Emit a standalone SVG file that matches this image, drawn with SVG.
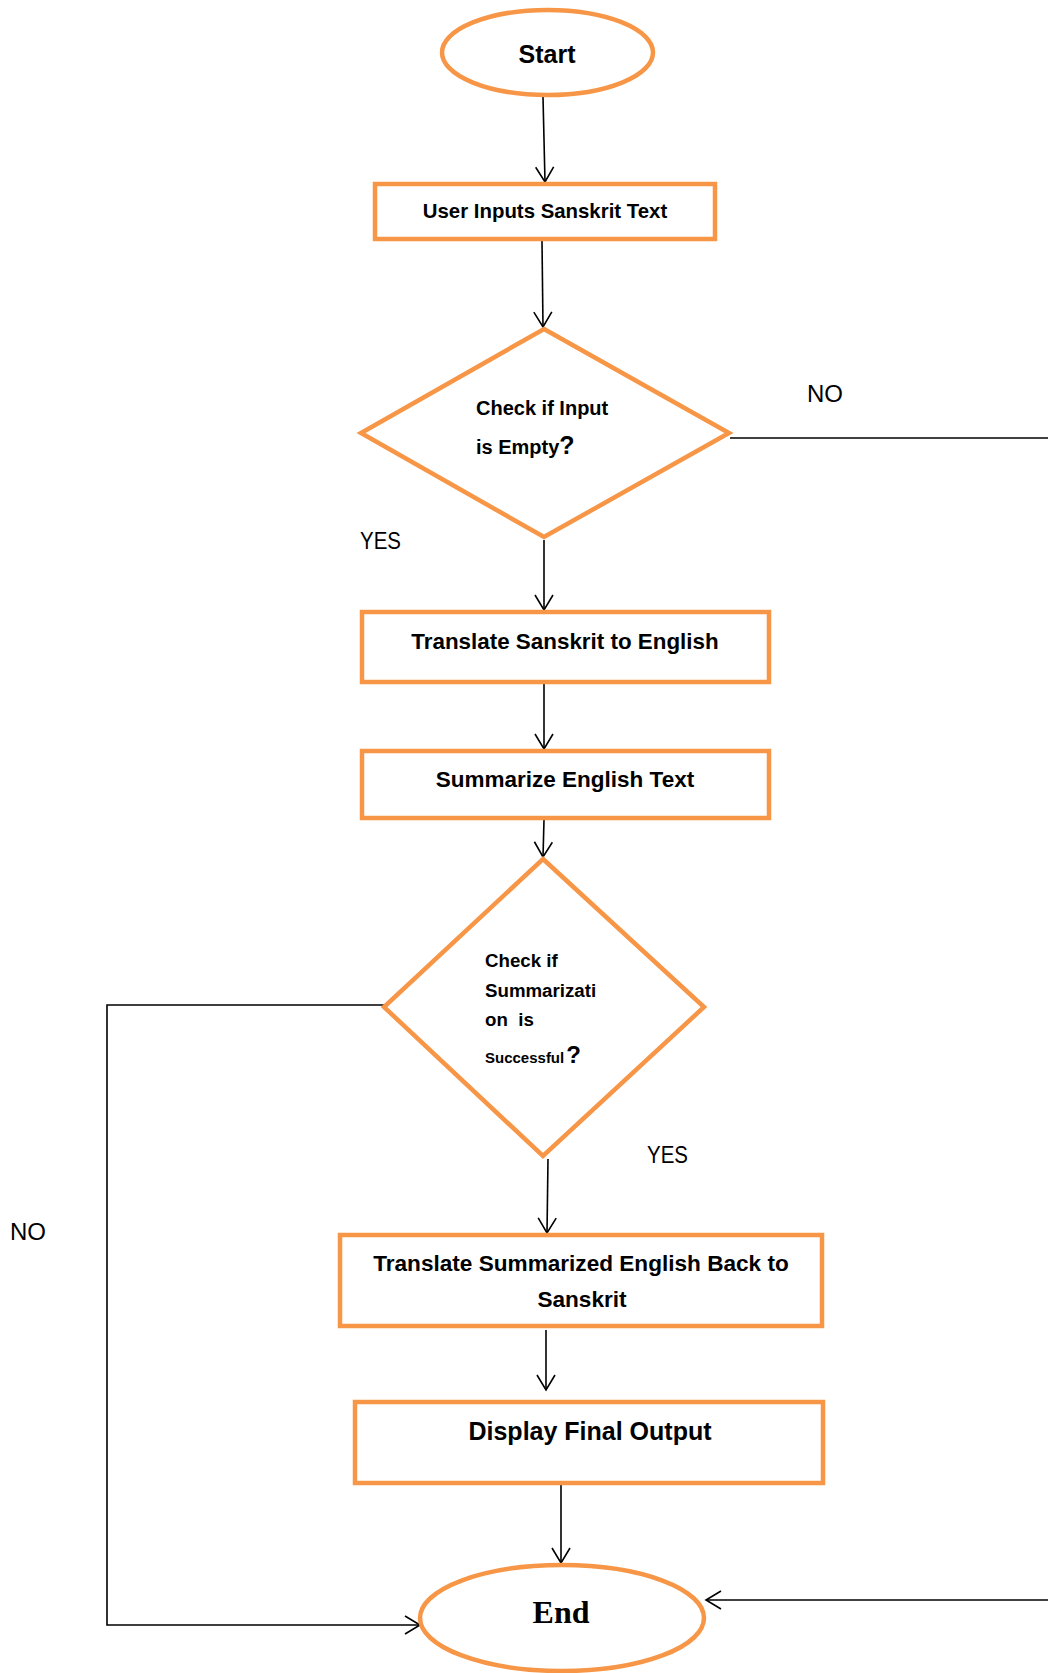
<svg xmlns="http://www.w3.org/2000/svg" width="1048" height="1673" viewBox="0 0 1048 1673">
<style>
.shape{fill:#fff;stroke:#F79646;stroke-width:4.5}
.t{font-family:"Liberation Sans",Arial,sans-serif;font-weight:bold;fill:#000}
.lbl{font-family:"Liberation Sans",Arial,sans-serif;font-size:24px;fill:#000}
.c{stroke:#000;stroke-width:1.6;fill:none}
</style>
<defs>
<marker id="arr" markerUnits="userSpaceOnUse" markerWidth="20" markerHeight="20" viewBox="0 0 20 20" refX="18" refY="10" orient="auto">
<path d="M3,1 L18,10 L3,19" fill="none" stroke="#000" stroke-width="1.6"/>
</marker>
</defs>
<rect width="1048" height="1673" fill="#fff"/>
<g id="connectors">
<line class="c" x1="543" y1="97" x2="545" y2="182" marker-end="url(#arr)"/>
<line class="c" x1="542" y1="241" x2="543" y2="327" marker-end="url(#arr)"/>
<line class="c" x1="544" y1="540" x2="544" y2="610" marker-end="url(#arr)"/>
<line class="c" x1="544" y1="684" x2="544" y2="749" marker-end="url(#arr)"/>
<line class="c" x1="544" y1="820" x2="543" y2="857" marker-end="url(#arr)"/>
<line class="c" x1="548" y1="1159" x2="547" y2="1233" marker-end="url(#arr)"/>
<line class="c" x1="546" y1="1330" x2="546" y2="1390" marker-end="url(#arr)"/>
<line class="c" x1="561" y1="1472" x2="561" y2="1563" marker-end="url(#arr)"/>
<line class="c" x1="730" y1="438" x2="1048" y2="438"/>
<line class="c" x1="1048" y1="1600" x2="706" y2="1600" marker-end="url(#arr)"/>
<polyline class="c" points="398,1005 107,1005 107,1625 420,1625" marker-end="url(#arr)"/>
</g>
<g id="labels">
<text class="lbl" x="807" y="402" textLength="36" lengthAdjust="spacingAndGlyphs">NO</text>
<text class="lbl" x="360" y="549" textLength="41" lengthAdjust="spacingAndGlyphs">YES</text>
<text class="lbl" x="647" y="1163" textLength="41" lengthAdjust="spacingAndGlyphs">YES</text>
<text class="lbl" x="10" y="1240" textLength="36" lengthAdjust="spacingAndGlyphs">NO</text>
</g>
<g id="start">
<ellipse class="shape" cx="547.5" cy="52.5" rx="105.5" ry="42.5"/>
<text class="t" x="547" y="63" font-size="25" text-anchor="middle">Start</text>
</g>
<g id="user-input">
<rect class="shape" x="375" y="184" width="340" height="55"/>
<text class="t" x="545" y="218" font-size="20.4" text-anchor="middle">User Inputs Sanskrit Text</text>
</g>
<g id="check-empty">
<polygon class="shape" points="544,329 729,433 544,537 361,433"/>
<text class="t" x="476" y="415" font-size="20">Check if Input</text>
<text class="t" x="476" y="454" font-size="20">is Empty<tspan font-size="25">?</tspan></text>
</g>
<g id="translate-en">
<rect class="shape" x="362" y="612" width="407" height="70"/>
<text class="t" x="565" y="649" font-size="22.4" text-anchor="middle">Translate Sanskrit to English</text>
</g>
<g id="summarize">
<rect class="shape" x="362" y="751" width="407" height="67"/>
<text class="t" x="565" y="787" font-size="22.5" text-anchor="middle">Summarize English Text</text>
</g>
<g id="check-summary">
<polygon class="shape" points="543,859 704,1007 543,1156 384,1007"/>
<text class="t" x="485" y="967" font-size="18.7">Check if</text>
<text class="t" x="485" y="997" font-size="18.7">Summarizati</text>
<text class="t" x="485" y="1026" font-size="18.7" xml:space="preserve">on  is</text>
<text class="t" x="485" y="1063" font-size="15">Successful<tspan font-size="24" dx="2">?</tspan></text>
</g>
<g id="translate-sa">
<rect class="shape" x="340" y="1235" width="482" height="91"/>
<text class="t" x="581" y="1271" font-size="22.6" text-anchor="middle">Translate Summarized English Back to</text>
<text class="t" x="582" y="1307" font-size="22.6" text-anchor="middle">Sanskrit</text>
</g>
<g id="display">
<rect class="shape" x="355" y="1402" width="468" height="81"/>
<text class="t" x="590" y="1440" font-size="25" text-anchor="middle">Display Final Output</text>
</g>
<g id="end">
<ellipse class="shape" cx="562" cy="1618" rx="142" ry="53"/>
<text x="561" y="1623" font-family="'Liberation Serif','Times New Roman',serif" font-weight="bold" font-size="32" text-anchor="middle" fill="#000">End</text>
</g>
</svg>
